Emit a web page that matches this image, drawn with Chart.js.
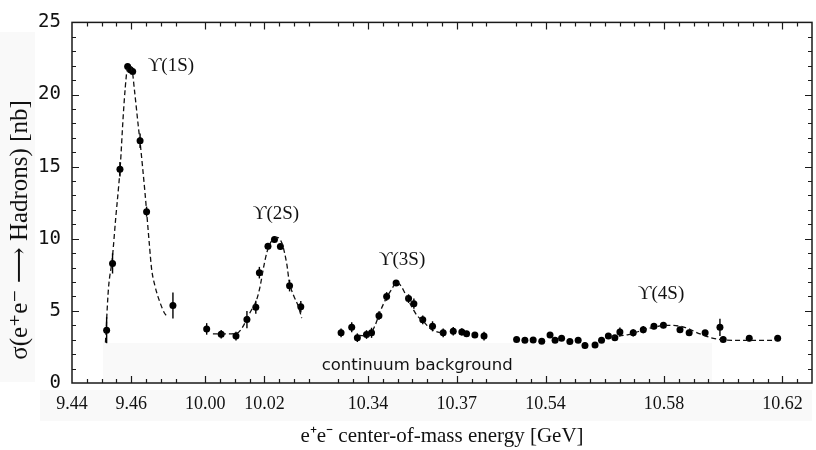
<!DOCTYPE html>
<html>
<head>
<meta charset="utf-8">
<script src="https://cdn.jsdelivr.net/npm/chart.js@4"></script>
<style>
  html, body { margin: 0; padding: 0; background: #fff; }
</style>
</head>
<body>
<canvas id="upsilonChart" width="816" height="450"></canvas>
<script>
// measured points: energy [GeV], cross section [nb], error [nb]
const ups1Energy = [9.4517, 9.4537, 9.4562, 9.4588, 9.4597, 9.4605, 9.4630, 9.4652, 9.4741];
const ups1Sigma  = [3.66, 8.29, 14.82, 21.95, 21.72, 21.6, 16.8, 11.88, 5.38];
const ups1Err    = [0.9, 0.7, 0.5, 0.15, 0.15, 0.15, 0.5, 0.35, 0.9];

const ups2Energy = [10.0005, 10.0054, 10.0104, 10.0141, 10.0171, 10.0183, 10.0212, 10.0234, 10.0254, 10.0285, 10.0323];
const ups2Sigma  = [3.75, 3.38, 3.25, 4.4, 5.25, 7.65, 9.48, 9.95, 9.46, 6.75, 5.28];
const ups2Err    = [0.4, 0.3, 0.3, 0.6, 0.45, 0.4, 0.2, 0.2, 0.2, 0.4, 0.4];

const ups3Energy = [10.3309, 10.3345, 10.3364, 10.3395, 10.3412, 10.3437, 10.3463, 10.3495, 10.3537, 10.3555,
                    10.3585, 10.3618, 10.3654, 10.3688, 10.3717, 10.3733, 10.3761, 10.3792];
const ups3Sigma  = [3.48, 3.86, 3.14, 3.36, 3.48, 4.67, 6.0, 6.93, 5.85, 5.5,
                    4.38, 3.93, 3.48, 3.59, 3.54, 3.41, 3.32, 3.25];
const ups3Err    = [0.3, 0.35, 0.3, 0.3, 0.35, 0.3, 0.3, 0.15, 0.3, 0.35,
                    0.3, 0.35, 0.3, 0.3, 0.25, 0.2, 0.2, 0.3];

const ups4Energy = [10.5302, 10.5330, 10.5358, 10.5387, 10.5415, 10.5432, 10.5454, 10.5482, 10.5510, 10.5533,
                    10.5567, 10.5589, 10.5612, 10.5634, 10.5651, 10.5696, 10.5730, 10.5766, 10.5798, 10.5854,
                    10.5885, 10.5939, 10.5989, 10.6000, 10.6088, 10.6184];
const ups4Sigma  = [3.02, 2.96, 2.98, 2.9, 3.32, 2.96, 3.1, 2.87, 2.96, 2.6,
                    2.64, 2.96, 3.25, 3.14, 3.54, 3.48, 3.7, 3.93, 4.0, 3.7,
                    3.48, 3.48, 3.86, 3.02, 3.1, 3.1];
const ups4Err    = [0.15, 0.15, 0.15, 0.15, 0.2, 0.15, 0.15, 0.15, 0.15, 0.2,
                    0.2, 0.15, 0.2, 0.15, 0.3, 0.25, 0.25, 0.2, 0.2, 0.2,
                    0.2, 0.2, 0.6, 0.2, 0.2, 0.2];

// dashed fit curves
const ups1FitEnergy = [9.4513, 9.4523, 9.4536, 9.4548, 9.4557, 9.4563, 9.4573, 9.4580, 9.4586, 9.4593, 9.4603,
                       9.4611, 9.4624, 9.4630, 9.4647, 9.4652, 9.4661, 9.4669, 9.4680, 9.4697, 9.4714, 9.4725];
const ups1FitSigma  = [2.8, 6.5, 8.6, 11.5, 13.5, 15.0, 18.5, 20.5, 21.7, 22.0, 21.7,
                       20.3, 17.8, 16.7, 13.1, 11.9, 9.7, 7.9, 6.75, 5.6, 4.8, 4.6];

const ups2FitEnergy = [10.0026, 10.0070, 10.0107, 10.0124, 10.0152, 10.0175, 10.0186, 10.0198, 10.0209,
                       10.0226, 10.0243, 10.0259, 10.0276, 10.0284, 10.0298, 10.0315, 10.0326];
const ups2FitSigma  = [3.4, 3.4, 3.45, 3.8, 4.9, 5.85, 6.75, 8.1, 9.1, 9.9, 10.1, 9.7, 8.2, 7.0, 6.1, 5.3, 4.5];

const ups3FitEnergy = [10.3370, 10.3401, 10.3424, 10.3441, 10.3461, 10.3480, 10.3497, 10.3514, 10.3531,
                       10.3548, 10.3565, 10.3587, 10.3609, 10.3626, 10.3653];
const ups3FitSigma  = [3.3, 3.25, 4.0, 4.95, 5.85, 6.5, 7.0, 6.64, 5.96, 5.28, 4.7, 4.27, 3.8, 3.6, 3.45];

const ups4FitEnergy = [10.5620, 10.5680, 10.5746, 10.5814, 10.5870, 10.5922, 10.5967, 10.6034, 10.6180];
const ups4FitSigma  = [3.2, 3.36, 3.77, 4.0, 3.86, 3.4, 3.1, 2.96, 2.96];

// labels
const peakNames       = ['\u03D2(1S)', '\u03D2(2S)', '\u03D2(3S)', '\u03D2(4S)'];
const peakLabelEnergy = [9.4734, 10.0239, 10.3515, 10.5790];
const peakLabelSigma  = [22.0, 11.72, 8.54, 6.17];
const continuumText   = 'continuum background';
const continuumEnergy = 10.3566;
const continuumSigma  = 1.22;

const xTickEnergies = [9.44, 9.46, 10.00, 10.02, 10.34, 10.37, 10.54, 10.58, 10.62];
const yMax = 25;

// broken energy axis: each window maps to its own stretch of the axis (units of MeV)
const axisSegments = [
    { lo: 9.40, hi: 9.60, start: 9.44, at: 0 },
    { lo: 9.90, hi: 10.10, start: 10.00, at: 45 },
    { lo: 10.30, hi: 10.45, start: 10.34, at: 100 },
    { lo: 10.50, hi: 10.70, start: 10.54, at: 160 }
];
const axisMax = 250;
const breakTicks = [40, 85, 145];

function toAxis(e) {
    const s = axisSegments.find(seg => e >= seg.lo && e < seg.hi);
    return s.at + (e - s.start) * 1000;
}

const xTickPos = xTickEnergies.map(toAxis);

const fits = [
    [ups1FitEnergy, ups1FitSigma],
    [ups2FitEnergy, ups2FitSigma],
    [ups3FitEnergy, ups3FitSigma],
    [ups4FitEnergy, ups4FitSigma]
];
const measured = [
    [ups1Energy, ups1Sigma, ups1Err],
    [ups2Energy, ups2Sigma, ups2Err],
    [ups3Energy, ups3Sigma, ups3Err],
    [ups4Energy, ups4Sigma, ups4Err]
];

const datasets = [];
fits.forEach(([e, s]) => {
    datasets.push({
        data: e.map((v, i) => ({ x: toAxis(v), y: s[i] })),
        showLine: true,
        borderColor: '#111',
        borderWidth: 1.3,
        borderDash: [5, 3],
        pointRadius: 0,
        cubicInterpolationMode: 'monotone'
    });
});
measured.forEach(([e, s, err]) => {
    datasets.push({
        data: e.map((v, i) => ({ x: toAxis(v), y: s[i] })),
        errors: err,
        showLine: false,
        pointRadius: 3.5,
        pointBackgroundColor: '#000',
        pointBorderWidth: 0
    });
});

const errorBars = {
    id: 'errorBars',
    afterDatasetsDraw(chart) {
        const { ctx, scales: { x, y } } = chart;
        ctx.save();
        ctx.strokeStyle = '#000';
        ctx.lineWidth = 1.4;
        chart.data.datasets.forEach(ds => {
            if (!ds.errors) return;
            ds.data.forEach((pt, i) => {
                const px = x.getPixelForValue(pt.x);
                ctx.beginPath();
                ctx.moveTo(px, y.getPixelForValue(pt.y - ds.errors[i]));
                ctx.lineTo(px, y.getPixelForValue(pt.y + ds.errors[i]));
                ctx.stroke();
            });
        });
        ctx.restore();
    }
};

// faint grey patches seen in the scan
const paperPatches = {
    id: 'paperPatches',
    beforeDraw(chart) {
        const { ctx, chartArea: a } = chart;
        ctx.save();
        ctx.fillStyle = '#f9f9f9';
        ctx.fillRect(0, 32, 35, 350);
        ctx.fillRect(40, a.bottom + 7, a.right - 40, 31);
        ctx.fillRect(a.left + 31, a.bottom - 40, 609, 40);
        ctx.restore();
    }
};

const frameAndText = {
    id: 'frameAndText',
    afterDraw(chart) {
        const { ctx, chartArea: a, scales: { x, y } } = chart;
        ctx.save();
        ctx.strokeStyle = '#1a1a1a';
        ctx.lineWidth = 1.5;
        ctx.strokeRect(a.left, a.top, a.right - a.left, a.bottom - a.top);

        // inward ticks, 5 MeV apart, none at the axis breaks
        ctx.lineWidth = 1.2;
        for (let v = 5; v < axisMax; v += 5) {
            if (breakTicks.includes(v)) continue;
            const major = xTickPos.some(t => Math.abs(t - v) < 0.5);
            const len = major ? 7 : 4;
            const px = Math.round(x.getPixelForValue(v)) + 0.5;
            ctx.beginPath();
            ctx.moveTo(px, a.bottom); ctx.lineTo(px, a.bottom - len);
            ctx.moveTo(px, a.top); ctx.lineTo(px, a.top + len);
            ctx.stroke();
        }
        for (let v = 1; v < yMax; v++) {
            const len = v % 5 === 0 ? 7 : 4;
            const py = Math.round(y.getPixelForValue(v)) + 0.5;
            ctx.beginPath();
            ctx.moveTo(a.left, py); ctx.lineTo(a.left + len, py);
            ctx.moveTo(a.right, py); ctx.lineTo(a.right - len, py);
            ctx.stroke();
        }

        // resonance names
        ctx.fillStyle = '#111';
        ctx.textAlign = 'center';
        ctx.textBaseline = 'middle';
        ctx.font = '19px "Liberation Serif", "DejaVu Serif", serif';
        peakNames.forEach((n, i) => {
            ctx.fillText(n, x.getPixelForValue(toAxis(peakLabelEnergy[i])), y.getPixelForValue(peakLabelSigma[i]));
        });
        ctx.font = '16.5px "DejaVu Sans", sans-serif';
        ctx.fillText(continuumText, x.getPixelForValue(toAxis(continuumEnergy)), y.getPixelForValue(continuumSigma));

        // y title
        ctx.translate(20, 230);
        ctx.rotate(-Math.PI / 2);
        ctx.font = '25px "Liberation Serif", "DejaVu Serif", serif';
        ctx.fillText('\u03C3(e\u207Ae\u207B \u27F6 Hadrons) [nb]', 0, 0);
        ctx.restore();
    }
};

new Chart(document.getElementById('upsilonChart'), {
    type: 'scatter',
    data: { datasets },
    options: {
        responsive: false,
        animation: false,
        layout: { padding: { top: 14, right: 4, left: 0, bottom: 0 } },
        plugins: { legend: { display: false }, tooltip: { enabled: false } },
        scales: {
            x: {
                type: 'linear',
                min: 0,
                max: axisMax,
                grid: { display: false, drawTicks: false },
                border: { display: false },
                afterBuildTicks: scale => { scale.ticks = xTickPos.map(v => ({ value: v })); },
                afterFit: scale => { scale.height = 67; },
                ticks: {
                    autoSkip: false,
                    maxRotation: 0,
                    padding: 10,
                    color: '#111',
                    font: { family: '"Liberation Serif", serif', size: 18 },
                    callback: (v) => {
                        const i = xTickPos.findIndex(t => Math.abs(t - v) < 0.01);
                        return i < 0 ? '' : xTickEnergies[i].toFixed(2);
                    }
                },
                title: {
                    display: true,
                    text: 'e\u207Ae\u207B center-of-mass energy [GeV]',
                    color: '#111',
                    font: { family: '"Liberation Serif", serif', size: 21 },
                    padding: { top: 0, bottom: 1 }
                }
            },
            y: {
                min: 0,
                max: yMax,
                grid: { display: false, drawTicks: false },
                border: { display: false },
                afterFit: scale => { scale.width = 72; },
                ticks: {
                    stepSize: 5,
                    padding: 11,
                    color: '#111',
                    font: { family: '"DejaVu Sans Mono", monospace', size: 19 }
                }
            }
        }
    },
    plugins: [paperPatches, errorBars, frameAndText]
});
</script>
</body>
</html>
